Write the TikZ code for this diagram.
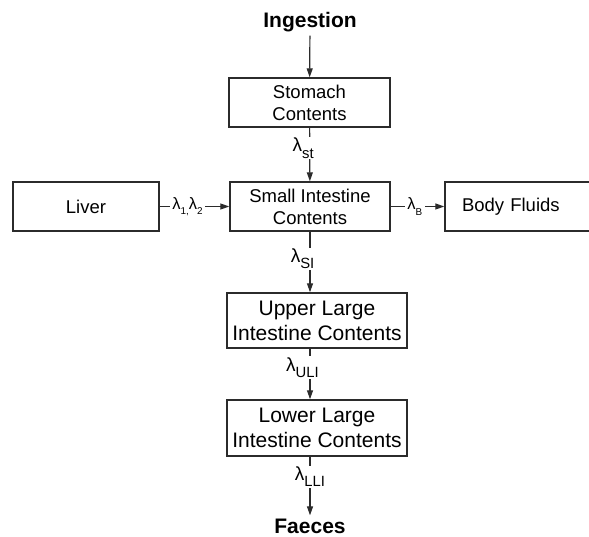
\documentclass[tikz,border=0pt]{standalone}
\usepackage{fontspec}
\setmainfont{Liberation Sans}
\usetikzlibrary{arrows.meta, positioning}
\definecolor{inkgray}{HTML}{2B2B2B}

% constante de transferencia con subindice
\newcommand{\rate}[2][.78]{λ\raisebox{-.33em}{\scalebox{#1}{#2}}}

\tikzset{
  compart/.style={draw=inkgray, line width=1.4pt, align=center, inner sep=0pt,
    font=\fontsize{18.5}{22}\selectfont},
  bigcompart/.style={compart, font=\fontsize{21}{25}\selectfont},
  flow/.style={draw=inkgray, line width=1.2pt, -{Triangle[length=9pt,width=6pt]}},
  ratelab/.style={fill=white, inner sep=1pt, font=\fontsize{19}{22}\selectfont},
  siderate/.style={fill=white, inner xsep=2.5pt, inner ysep=1pt, font=\fontsize{16.5}{18}\selectfont},
  endpoint/.style={inner sep=3pt, font=\bfseries\fontsize{21}{25}\selectfont}
}

\begin{document}
\begin{tikzpicture}[x=1pt, y=-1pt]
  \useasboundingbox (0,0) rectangle (589,537);

  % Entrada y salida
  \node[endpoint, anchor=base] (ingest) at (310,28) {Ingestion};
  \node[endpoint, anchor=base] (faeces) at (310,533) {Faeces};

  % Compartimentos
  \node[compart, minimum width=161pt, minimum height=49pt] (stomach) at (309.5,102.5) {Stomach\\Contents};
  \node[compart, minimum width=160pt, minimum height=49pt] (small) at (310,206.5) {Small Intestine\\Contents};
  \node[compart, minimum width=146pt, minimum height=49pt] (liver) at (86,206.5) {Liver};
  \node[compart, minimum width=160pt, minimum height=49pt, text width=126pt, align=left] (fluids) at (525,206.5) {Body Fluids};
  \node[bigcompart, minimum width=180pt, minimum height=55pt] (upper) at (317,320.5) {Upper Large\\Intestine Contents};
  \node[bigcompart, minimum width=180pt, minimum height=56pt] (lower) at (317,428) {Lower Large\\Intestine Contents};

  % Flujos verticales
  \draw[flow] (ingest) -- (stomach);
  \draw[flow] (stomach) -- node[ratelab, pos=.38, xshift=-6.5pt] {\rate{st}} (small);
  \draw[flow] (small.south) -- node[ratelab, pos=.45, xshift=-7.5pt] {\rate{SI}} (small.south |- upper.north);
  \draw[flow] (upper.south -| small) -- node[ratelab, pos=.37, xshift=-7.5pt] {\rate{ULI}} (lower.north -| small);
  \draw[flow] (faeces |- lower.south) -- node[ratelab, pos=.34] {\rate{LLI}} (faeces);

  % Flujos laterales
  \draw[flow] (liver) -- node[siderate, pos=.4] {\rate[.6]{1,}\rate[.6]{2}} (small);
  \draw[flow] (small) -- node[siderate, pos=.45] {\rate[.6]{B}} (fluids);
\end{tikzpicture}
\end{document}
